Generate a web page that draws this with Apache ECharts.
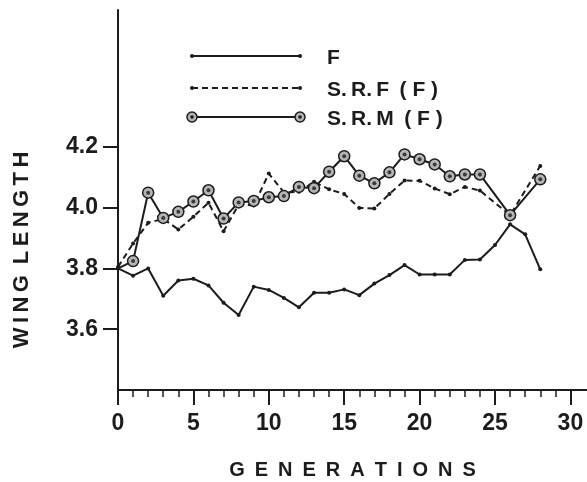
<!DOCTYPE html>
<html>
<head>
<meta charset="utf-8">
<script src="https://cdn.jsdelivr.net/npm/echarts@6/dist/echarts.min.js"></script>
<style>
  html, body { margin: 0; padding: 0; background: #fff; }
  #chart { width: 587px; height: 482px; }
</style>
</head>
<body>
<div id="chart"></div>
<script>
// generations 0..28 for F
var genF = [0,1,2,3,4,5,6,7,8,9,10,11,12,13,14,15,16,17,18,19,20,21,22,23,24,25,26,27,28];
var valF = [3.80,3.776,3.80,3.71,3.76,3.766,3.744,3.687,3.647,3.74,3.729,3.703,3.672,3.72,3.72,3.731,3.712,3.75,3.778,3.811,3.78,3.78,3.78,3.828,3.829,3.877,3.945,3.912,3.797];
// S.R.F and S.R.M skip generations 25 and 27
var genSR = [0,1,2,3,4,5,6,7,8,9,10,11,12,13,14,15,16,17,18,19,20,21,22,23,24,26,28];
var valSRF = [3.805,3.882,3.95,3.963,3.928,3.97,4.016,3.922,4.01,4.007,4.112,4.05,4.052,4.085,4.06,4.045,3.999,3.997,4.045,4.089,4.088,4.063,4.044,4.068,4.056,3.975,4.137];
var valSRM = [3.80,3.824,4.049,3.966,3.986,4.020,4.057,3.964,4.017,4.022,4.034,4.038,4.068,4.064,4.118,4.169,4.105,4.080,4.116,4.175,4.159,4.142,4.103,4.109,4.109,3.975,4.093];

var yTicks = [3.6, 3.8, 4.0, 4.2];
var xMajor = [0, 5, 10, 15, 20, 25, 30];
var xMinor = [];
for (var i = 1; i < 30; i++) { if (i % 5 !== 0) xMinor.push(i); }

var legendNames = ['F', 'S.\u2009R.\u2009F\u2002( F )', 'S.\u2009R.\u2009M\u2002( F )'];
var yTitle = 'W\u2009I\u2009N\u2009G\u2002L\u2009E\u2009N\u2009G\u2009T\u2009H';

var ink = '#1c1c1c';
var font = '"Liberation Sans", Arial, sans-serif';

function pairs(xs, ys) {
  return xs.map(function (x, k) { return [x, ys[k]]; });
}

var srmData = pairs(genSR, valSRM).map(function (p, k) {
  return k === 0 ? { value: p, symbol: 'none' } : p;
});

var chart = echarts.init(document.getElementById('chart'), null, { renderer: 'canvas' });

// legend drawn by hand: symbols sit at both ends of the sample line
var legendRows = [56, 88, 117];
var legendChildren = [];
legendRows.forEach(function (y, k) {
  legendChildren.push({
    type: 'line',
    shape: { x1: 192, y1: y, x2: 300, y2: y },
    style: { stroke: ink, lineWidth: 2, lineDash: k === 1 ? [6, 4] : null }
  });
  [192, 300].forEach(function (x) {
    if (k === 2) {
      legendChildren.push({ type: 'circle', shape: { cx: x, cy: y, r: 5 }, style: { fill: '#b5b5b5', stroke: ink, lineWidth: 1.5 } });
      legendChildren.push({ type: 'circle', shape: { cx: x, cy: y, r: 1.8 }, style: { fill: ink } });
    } else {
      legendChildren.push({ type: 'circle', shape: { cx: x, cy: y, r: 2 }, style: { fill: ink } });
    }
  });
  legendChildren.push({
    type: 'text',
    x: 327, y: y + 2,
    style: { text: legendNames[k], fill: ink, font: 'bold 21px ' + font, verticalAlign: 'middle', align: 'left' }
  });
});

// y axis title sits lower than the axis middle in the original
legendChildren.push({
  type: 'text',
  x: 22, y: 250, rotation: Math.PI / 2,
  style: { text: yTitle, fill: ink, font: 'bold 22px ' + font, verticalAlign: 'middle', align: 'center' }
});

var option = {
  animation: false,
  backgroundColor: '#fff',
  grid: { left: 118, right: 0, top: 10, bottom: 92, containLabel: false, outerBoundsMode: 'none' },
  xAxis: [{
    type: 'value',
    min: 0,
    max: 31.1,
    name: 'G\u2002E\u2002N\u2002E\u2002R\u2002A\u2002T\u2002I\u2002O\u2002N\u2002S',
    nameLocation: 'middle',
    nameGap: 70,
    nameTextStyle: { color: ink, fontFamily: font, fontWeight: 'bold', fontSize: 20 },
    axisLine: { show: true, lineStyle: { color: ink, width: 2 } },
    axisTick: { show: true, customValues: xMajor, length: 15, lineStyle: { color: ink, width: 2 } },
    axisLabel: { customValues: xMajor, margin: 22, color: ink, fontFamily: font, fontWeight: 'bold', fontSize: 23 },
    splitLine: { show: false }
  }, {
    type: 'value',
    gridIndex: 0,
    position: 'bottom',
    min: 0,
    max: 31.1,
    axisLine: { show: false },
    axisTick: { show: true, customValues: xMinor, length: 7, lineStyle: { color: ink, width: 1.5 } },
    axisLabel: { show: false },
    splitLine: { show: false }
  }],
  yAxis: {
    type: 'value',
    min: 3.4,
    max: 4.65,
    axisLine: { show: true, lineStyle: { color: ink, width: 2 } },
    axisTick: { show: true, customValues: yTicks, length: 15, lineStyle: { color: ink, width: 2 } },
    axisLabel: {
      customValues: yTicks, margin: 20, color: ink, fontFamily: font, fontWeight: 'bold', fontSize: 23,
      formatter: function (v) { return v.toFixed(1); }
    },
    splitLine: { show: false }
  },
  series: [
    {
      name: 'F', type: 'line', data: pairs(genF, valF),
      symbol: 'circle', symbolSize: 4,
      lineStyle: { color: ink, width: 2 },
      itemStyle: { color: ink }
    },
    {
      name: 'S.R.F (F)', type: 'line', data: pairs(genSR, valSRF),
      symbol: 'circle', symbolSize: 4,
      lineStyle: { color: ink, width: 2, type: [6, 4] },
      itemStyle: { color: ink }
    },
    {
      name: 'S.R.M (F)', type: 'line', data: srmData,
      symbol: 'circle', symbolSize: 11,
      lineStyle: { color: ink, width: 2 },
      itemStyle: { color: '#b5b5b5', borderColor: ink, borderWidth: 1.5 }
    },
    {
      // center dots inside the S.R.M rings
      name: 'S.R.M (F) dots', type: 'scatter', data: pairs(genSR.slice(1), valSRM.slice(1)),
      symbol: 'circle', symbolSize: 4, z: 5,
      itemStyle: { color: ink }
    }
  ],
  graphic: [{ type: 'group', children: legendChildren }]
};

chart.setOption(option);
</script>
</body>
</html>
